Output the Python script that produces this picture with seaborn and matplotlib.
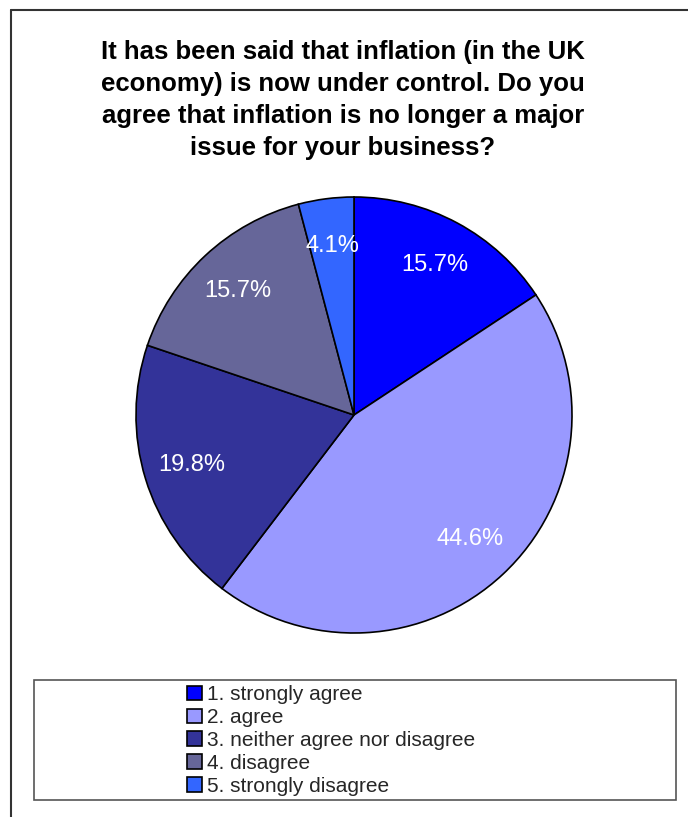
import matplotlib
matplotlib.use("Agg")
import matplotlib.pyplot as plt
import seaborn as sns
from matplotlib.patches import Rectangle
from matplotlib.lines import Line2D

categories = ["1. strongly agree", "2. agree", "3. neither agree nor disagree",
              "4. disagree", "5. strongly disagree"]
values = [15.7, 44.6, 19.8, 15.7, 4.1]
colors = ["#0000FF", "#9999FF", "#333399", "#666699", "#3366FF"]
title = ("It has been said that inflation (in the UK\neconomy) is now under control. Do you\n"
         "agree that inflation is no longer a major\nissue for your business?")

sns.set_theme(style="white")
plt.rcParams['font.family'] = ['Liberation Sans', 'DejaVu Sans']

W, H = 688, 817
fig = plt.figure(figsize=(W / 100, H / 100), dpi=100)
fig.patch.set_facecolor("white")

# outer frame (top and left lines)
fig.add_artist(Line2D([11.5 / W, 11.5 / W], [0, 1 - 10 / H], transform=fig.transFigure,
                      color="#333333", lw=1.5))
fig.add_artist(Line2D([11.5 / W, 1], [1 - 10 / H, 1 - 10 / H], transform=fig.transFigure,
                      color="#333333", lw=1.5))

fig.text(343 / W, 1 - 40 / H, title, ha="center", va="top", fontsize=18.5,
         fontweight="bold", linespacing=1.42, color="black")

cx, cy, r = 354, 415, 218
ax = fig.add_axes([(cx - r) / W, (H - cy - r) / H, 2 * r / W, 2 * r / H])
wedges, texts, autotexts = ax.pie(
    values, colors=colors, startangle=90, counterclock=False,
    autopct="%.1f%%", pctdistance=0.78,
    wedgeprops=dict(edgecolor="black", linewidth=1.2),
    textprops=dict(color="white", fontsize=17))
ax.set_xlim(-1, 1)
ax.set_ylim(-1, 1)
ax.set_aspect("equal")

# legend box
lx0, ly0, lx1, ly1 = 34, 680, 676, 800
fig.add_artist(Rectangle((lx0 / W, 1 - ly1 / H), (lx1 - lx0) / W, (ly1 - ly0) / H,
                         transform=fig.transFigure, facecolor="white",
                         edgecolor="#555555", lw=1.2))
handles = [Rectangle((0, 0), 1, 1, facecolor=c, edgecolor="black", lw=1.2) for c in colors]
fig.legend(handles, categories, loc="upper left",
           bbox_to_anchor=(183 / W, 1 - 681 / H), frameon=False,
           fontsize=15, handlelength=0.7, handleheight=0.7, handletextpad=0.25,
           labelspacing=0.19, borderaxespad=0, borderpad=0.2)

fig.savefig("out.png", dpi=100, facecolor="white")
